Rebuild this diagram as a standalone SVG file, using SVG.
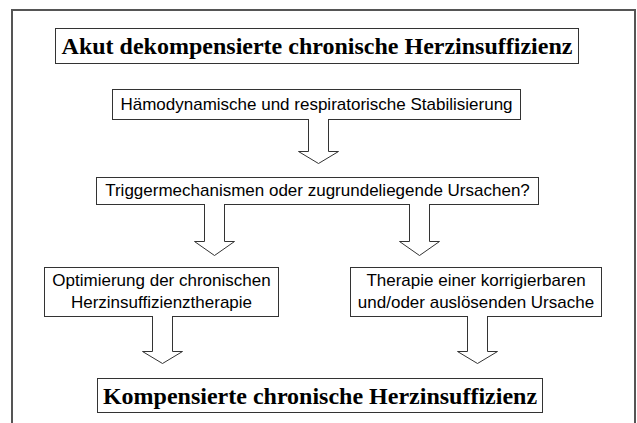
<svg xmlns="http://www.w3.org/2000/svg" width="637" height="423" viewBox="0 0 637 423">
<style>
.frame{fill:none;stroke:#555;stroke-width:2}
.box{fill:#fff;stroke:#333;stroke-width:1}
.arrow{fill:#fff;stroke:#333;stroke-width:1;stroke-linejoin:miter}
.title{font-family:"Liberation Serif","Times New Roman",serif;font-weight:bold;font-size:24px;fill:#000;text-anchor:middle}
.lbl{font-family:"Liberation Sans",Arial,sans-serif;font-size:17px;fill:#000;text-anchor:middle}
</style>
<rect x="0" y="0" width="637" height="423" fill="#fff"/>
<rect class="frame" x="12" y="10" width="623" height="440"/>
<g id="n-akut">
<rect class="box" x="55.5" y="28.5" width="523" height="35"/>
<text class="title" x="317" y="54">Akut dekompensierte chronische Herzinsuffizienz</text>
</g>
<g id="n-stabil">
<rect class="box" x="112.5" y="89.5" width="408" height="30"/>
<text class="lbl" x="316.5" y="110">Hämodynamische und respiratorische Stabilisierung</text>
</g>
<g id="n-trigger">
<rect class="box" x="96.5" y="177.5" width="442" height="27"/>
<text class="lbl" x="317.5" y="196">Triggermechanismen oder zugrundeliegende Ursachen?</text>
</g>
<g id="n-optim">
<rect class="box" x="44.5" y="267.5" width="234" height="49"/>
<text class="lbl" x="161.5" y="286">Optimierung der chronischen</text>
<text class="lbl" x="161.5" y="308">Herzinsuffizienztherapie</text>
</g>
<g id="n-therapie">
<rect class="box" x="350.5" y="267.5" width="251" height="49"/>
<text class="lbl" x="476" y="286">Therapie einer korrigierbaren</text>
<text class="lbl" x="476" y="308">und/oder auslösenden Ursache</text>
</g>
<g id="n-komp">
<rect class="box" x="97.5" y="378.5" width="445" height="34"/>
<text class="title" x="320" y="404">Kompensierte chronische Herzinsuffizienz</text>
</g>
<g id="connectors">
<path class="arrow" d="M308.5,119 V151.5 H298.5 L318.5,163.5 L338.5,151.5 H328.5 V119"/>
<path class="arrow" d="M204.5,204 V241.5 H194.5 L214.5,255.5 L234.5,241.5 H224.5 V204"/>
<path class="arrow" d="M409.5,204 V241.5 H399.5 L419.5,255.5 L439.5,241.5 H429.5 V204"/>
<path class="arrow" d="M152.5,316 V351.5 H142.5 L162.5,363.5 L182.5,351.5 H172.5 V316"/>
<path class="arrow" d="M467.5,316 V351.5 H457.5 L477.5,363.5 L497.5,351.5 H487.5 V316"/>
</g>
</svg>
